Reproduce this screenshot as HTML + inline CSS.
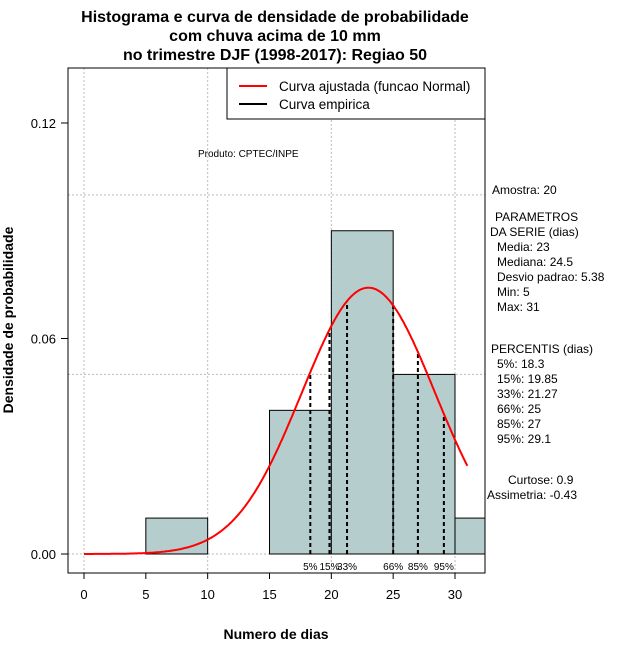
<!DOCTYPE html>
<html><head><meta charset="utf-8"><style>
body{margin:0;background:#fff;}
svg{display:block;font-family:"Liberation Sans",sans-serif;}
</style></head><body>
<svg id="chart" width="640" height="660">
<g id="grid"></g>
<g id="bars"></g>
<g id="pct"></g>
<path id="curve" fill="none" stroke="#f00" stroke-width="2"/>
<rect x="68" y="68" width="417" height="505" fill="none" stroke="#000"/>
<g id="axes"></g>
<text x="275" y="22" text-anchor="middle" font-weight="bold" font-size="16">Histograma e curva de densidade de probabilidade</text>
<text x="275" y="41" text-anchor="middle" font-weight="bold" font-size="16">com chuva acima de 10 mm</text>
<text x="275" y="60" text-anchor="middle" font-weight="bold" font-size="16">no trimestre DJF (1998-2017): Regiao 50</text>
<text x="276" y="639" text-anchor="middle" font-weight="bold" font-size="14">Numero de dias</text>
<text transform="translate(13,320) rotate(-90)" text-anchor="middle" font-weight="bold" font-size="14">Densidade de probabilidade</text>
<g>
<rect x="227" y="68" width="258" height="51" fill="#fff" stroke="#000"/>
<line x1="239" y1="86" x2="267" y2="86" stroke="#f00" stroke-width="2"/>
<text x="279" y="91" font-size="13.5">Curva ajustada (funcao Normal)</text>
<line x1="239" y1="104" x2="267" y2="104" stroke="#000" stroke-width="2"/>
<text x="279" y="109" font-size="13.5">Curva empirica</text>
</g>
<text x="198" y="157" font-size="10">Produto: CPTEC/INPE</text>
<g font-size="12">
<text x="492" y="194">Amostra: 20</text>
<text x="495" y="221">PARAMETROS</text>
<text x="490" y="236">DA SERIE (dias)</text>
<text x="497" y="251">Media: 23</text>
<text x="497" y="266">Mediana: 24.5</text>
<text x="497" y="281">Desvio padrao: 5.38</text>
<text x="497" y="296">Min: 5</text>
<text x="497" y="311">Max: 31</text>
<text x="491" y="353">PERCENTIS (dias)</text>
<text x="497" y="368">5%: 18.3</text>
<text x="497" y="383">15%: 19.85</text>
<text x="497" y="398">33%: 21.27</text>
<text x="497" y="413">66%: 25</text>
<text x="497" y="428">85%: 27</text>
<text x="497" y="443">95%: 29.1</text>
<text x="508" y="484">Curtose: 0.9</text>
<text x="487" y="499">Assimetria: -0.43</text>
</g>
</svg>
<script>
const binStarts=[5,10,15,20,25,30];
const binDensity=[0.01,0,0.04,0.09,0.05,0.01];
const binWidth=5;
const pctValues=[18.3,19.85,21.27,25,27,29.1];
const pctLabels=["5%","15%","33%","66%","85%","95%"];
const meanVal=23, sdVal=5.38, curveMin=0, curveMax=31;
const xTicks=[0,5,10,15,20,25,30];
const yTicks=[0,0.06,0.12];
const yTickLabels=["0.00","0.06","0.12"];
const gridX=[0,10,20,30], gridY=[0,0.05,0.1];

const NS="http://www.w3.org/2000/svg";
const X=v=>84+v*(455-84)/30;
const Y=v=>554-v*(554-123)/0.12;
const L=68,R=485,T=68,B=573;
function mk(p,tag,a){const e=document.createElementNS(NS,tag);for(const k in a)e.setAttribute(k,a[k]);p.appendChild(e);return e;}
const dens=x=>Math.exp(-0.5*((x-meanVal)/sdVal)**2)/(sdVal*Math.sqrt(2*Math.PI));
const grid=document.getElementById('grid');
gridX.forEach(v=>{const e=mk(grid,'line',{x1:X(v),x2:X(v),y1:T,y2:B,stroke:'#bbb','stroke-dasharray':'2,2'});

});
gridY.forEach(v=>{const e=mk(grid,'line',{x1:L,x2:R,y1:Y(v),y2:Y(v),stroke:'#bbb','stroke-dasharray':'2,2'});

});
const bars=document.getElementById('bars');
binStarts.forEach((s,i)=>{if(!binDensity[i])return;
const x0=X(s),x1=Math.min(X(s+binWidth),R);
const e=mk(bars,'rect',{x:x0,y:Y(binDensity[i]),width:x1-x0,height:Y(0)-Y(binDensity[i]),fill:'#b5cdcd',stroke:'#000'});

});
const pct=document.getElementById('pct');
pctValues.forEach((v,i)=>{const l=mk(pct,'line',{x1:X(v),x2:X(v),y1:Y(0),y2:Y(dens(v)),stroke:'#000','stroke-width':2,'stroke-dasharray':'4,3'});


const t=mk(pct,'text',{x:X(v),y:570,'text-anchor':'middle','font-size':10});t.textContent=pctLabels[i];

});
let d="";for(let x=curveMin;x<=curveMax+1e-9;x+=0.1){d+=(d?"L":"M")+X(x).toFixed(1)+","+Y(dens(x)).toFixed(1);}
document.getElementById('curve').setAttribute('d',d);
const ax=document.getElementById('axes');
mk(ax,'line',{x1:X(0),x2:X(30),y1:B,y2:B,stroke:'#000'});
xTicks.forEach(v=>{mk(ax,'line',{x1:X(v),x2:X(v),y1:B,y2:B+6,stroke:'#000'});
const t=mk(ax,'text',{x:X(v),y:B+26,'text-anchor':'middle','font-size':13});t.textContent=v;

});
yTicks.forEach((v,i)=>{mk(ax,'line',{x1:L-7,x2:L,y1:Y(v),y2:Y(v),stroke:'#000'});
const t=mk(ax,'text',{x:L-12,y:Y(v)+5,'text-anchor':'end','font-size':13});t.textContent=yTickLabels[i];

});
</script>
</body></html>
